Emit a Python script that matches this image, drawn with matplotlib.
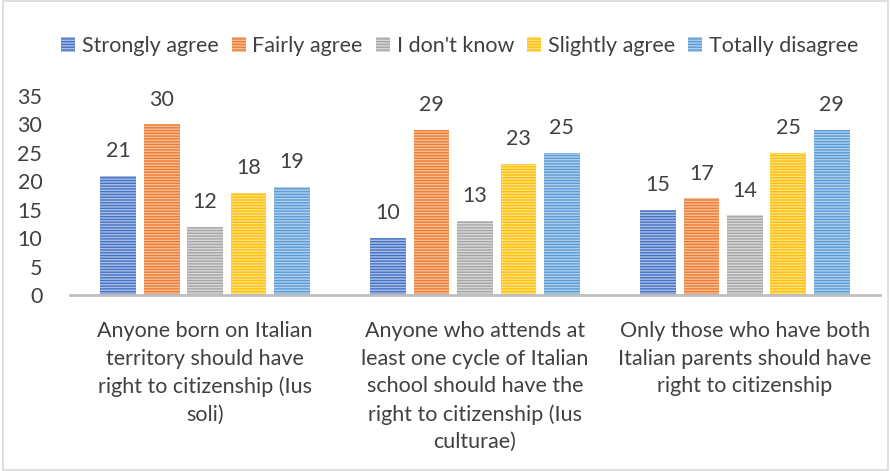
import numpy as np
import matplotlib.pyplot as plt
from matplotlib.patches import Rectangle

categories = [
    "Anyone born on Italian\nterritory should have\nright to citizenship (Ius\nsoli)",
    "Anyone who attends at\nleast one cycle of Italian\nschool should have the\nright to citizenship (Ius\nculturae)",
    "Only those who have both\nItalian parents should have\nright to citizenship",
]
series = ["Strongly agree", "Fairly agree", "I don't know", "Slightly agree", "Totally disagree"]
strongly_agree = [21, 10, 15]
fairly_agree = [30, 29, 17]
dont_know = [12, 13, 14]
slightly_agree = [18, 23, 25]
totally_disagree = [19, 25, 29]
values = [strongly_agree, fairly_agree, dont_know, slightly_agree, totally_disagree]

colors = ["#4472C4", "#ED7D31", "#A5A5A5", "#FFC000", "#5B9BD5"]
stripes = ["#A9BEE6", "#F6BE98", "#D8D8D8", "#FFE08A", "#B0CFEC"]

plt.rcParams['font.family'] = ['Lato', 'DejaVu Sans']
plt.rcParams['hatch.linewidth'] = 1.0
txt = "#404040"
fs = 15.5

fig = plt.figure(figsize=(8.91, 4.71), dpi=100)
ax = fig.add_axes([0.0786, 0.3737, 0.909, 0.4225])

x = np.arange(len(categories))
pitch = 0.161
width = 0.133
handles = []
for i, (name, vals) in enumerate(zip(series, values)):
    pos = x + (i - 2) * pitch
    b = ax.bar(pos, vals, width, color=colors[i], edgecolor=stripes[i],
               hatch='------', linewidth=0, label=name)
    handles.append(b)
    for px, v in zip(pos, vals):
        ax.text(px, v + 2.6, str(v), ha='center', va='bottom', fontsize=fs, color=txt)

ax.set_xlim(-0.5, 2.5)
ax.set_ylim(0, 35)
ax.set_yticks(range(0, 36, 5))
ax.set_xticks(x)
ax.set_xticklabels(categories, fontsize=fs, color=txt, linespacing=1.47)
ax.tick_params(axis='y', length=0, labelsize=fs, labelcolor=txt, pad=20)
ax.tick_params(axis='x', length=0, pad=19)
for s in ['top', 'right', 'left']:
    ax.spines[s].set_visible(False)
ax.spines['bottom'].set_color('#BFBFBF')
ax.spines['bottom'].set_linewidth(2)

fig.legend(handles=handles, loc='center', bbox_to_anchor=(0.516, 0.902), ncol=5,
           frameon=False, fontsize=fs, handlelength=0.65, handleheight=0.7,
           handletextpad=0.3, columnspacing=0.62, labelcolor=txt)

fig.patches.append(Rectangle((0.003, 0.003), 0.994, 0.994, transform=fig.transFigure,
                             fill=False, edgecolor='#D9D9D9', linewidth=1.2))

fig.savefig("out.png", dpi=100)
